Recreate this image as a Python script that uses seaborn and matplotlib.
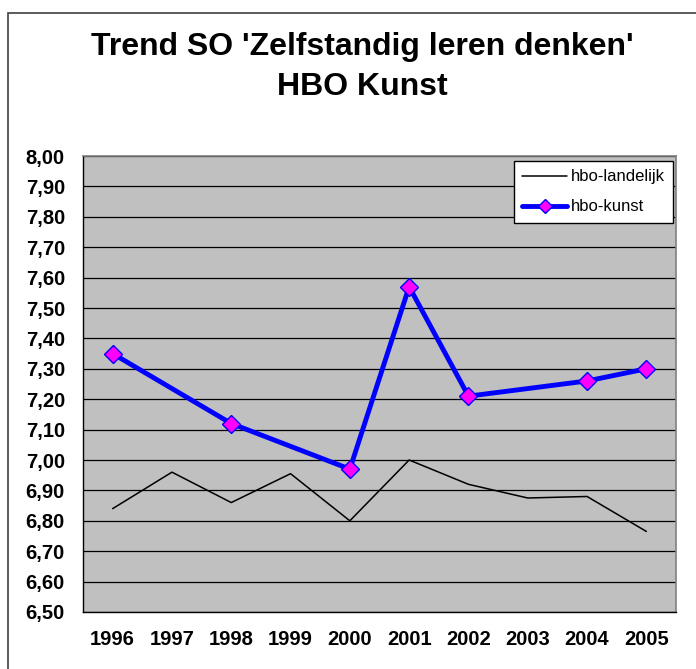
import numpy as np
import pandas as pd
import matplotlib
matplotlib.use("Agg")
import matplotlib.pyplot as plt
import matplotlib.ticker as mticker
from matplotlib.patches import Rectangle
import seaborn as sns

# Data
years = [1996, 1997, 1998, 1999, 2000, 2001, 2002, 2003, 2004, 2005]
landelijk = [6.84, 6.96, 6.86, 6.955, 6.80, 7.00, 6.92, 6.875, 6.88, 6.765]
kunst = [7.35, np.nan, 7.12, np.nan, 6.97, 7.57, 7.21, np.nan, 7.26, 7.30]

df = pd.DataFrame({"jaar": years, "hbo-landelijk": landelijk, "hbo-kunst": kunst})

sns.set_style("white")
plt.rcParams["font.family"] = ["Liberation Sans", "DejaVu Sans"]
plt.rcParams["text.color"] = "black"
plt.rcParams["xtick.color"] = "black"
plt.rcParams["ytick.color"] = "black"

fig = plt.figure(figsize=(6.96, 6.69), dpi=100, facecolor="white")
ax = fig.add_axes([83 / 696, 57 / 669, 593 / 696, 456 / 669])
ax.set_facecolor("#c0c0c0")

sns.lineplot(data=df, x="jaar", y="hbo-landelijk", color="black", linewidth=1.1,
             label="hbo-landelijk", ax=ax)
sns.lineplot(data=df.dropna(), x="jaar", y="hbo-kunst", color="#0000ff", linewidth=3.5,
             marker="D", markersize=9, markerfacecolor="#ff00ff",
             markeredgecolor="#0000ff", markeredgewidth=1,
             label="hbo-kunst", ax=ax)

# y axis
ax.set_ylim(6.5, 8.0)
ax.set_yticks(np.arange(6.5, 8.001, 0.1))
ax.yaxis.set_major_formatter(mticker.FuncFormatter(lambda v, p: f"{v:.2f}".replace(".", ",")))
ax.grid(axis="y", color="black", linewidth=0.9)
ax.set_axisbelow(True)

# x axis: labels at centers, tick marks at category boundaries
ax.set_xlim(1995.5, 2005.5)
ax.set_xticks(years)
ax.set_xticks(np.arange(1995.5, 2005.6, 1), minor=True)
ax.tick_params(axis="x", which="major", length=0, pad=13)
ax.tick_params(axis="x", which="minor", length=5, width=1, color="black", direction="out")
ax.tick_params(axis="y", length=5, width=1, color="black", direction="out", pad=8)
for lab in ax.get_xticklabels() + ax.get_yticklabels():
    lab.set_fontsize(14.5)
    lab.set_fontweight("bold")
    lab.set_color("black")

ax.set_xlabel("")
ax.set_ylabel("")

for side in ["top", "right"]:
    ax.spines[side].set_color("#808080")
    ax.spines[side].set_linewidth(1.2)
for side in ["left", "bottom"]:
    ax.spines[side].set_color("black")
    ax.spines[side].set_linewidth(1.0)

leg = ax.legend(loc="upper right", bbox_to_anchor=(0.995, 0.989), frameon=True,
                fancybox=False, edgecolor="black", facecolor="white", framealpha=1,
                fontsize=12, handlelength=2.7, borderpad=0.5, labelspacing=0.9,
                handletextpad=0.2, borderaxespad=0, markerscale=0.8)
leg.get_frame().set_linewidth(1.0)

fig.text(362 / 696, 1 - 47 / 669, "Trend SO 'Zelfstandig leren denken'",
         ha="center", va="center", fontsize=23, fontweight="bold", color="black")
fig.text(362 / 696, 1 - 87 / 669, "HBO Kunst",
         ha="center", va="center", fontsize=23, fontweight="bold", color="black")

# outer chart frame
fig.patches.append(Rectangle((8 / 696, -0.1), 1.2, (669 - 13) / 669 + 0.1,
                             transform=fig.transFigure, fill=False,
                             edgecolor="#404040", linewidth=1.2, clip_on=False))

fig.savefig("out.png", dpi=100)
